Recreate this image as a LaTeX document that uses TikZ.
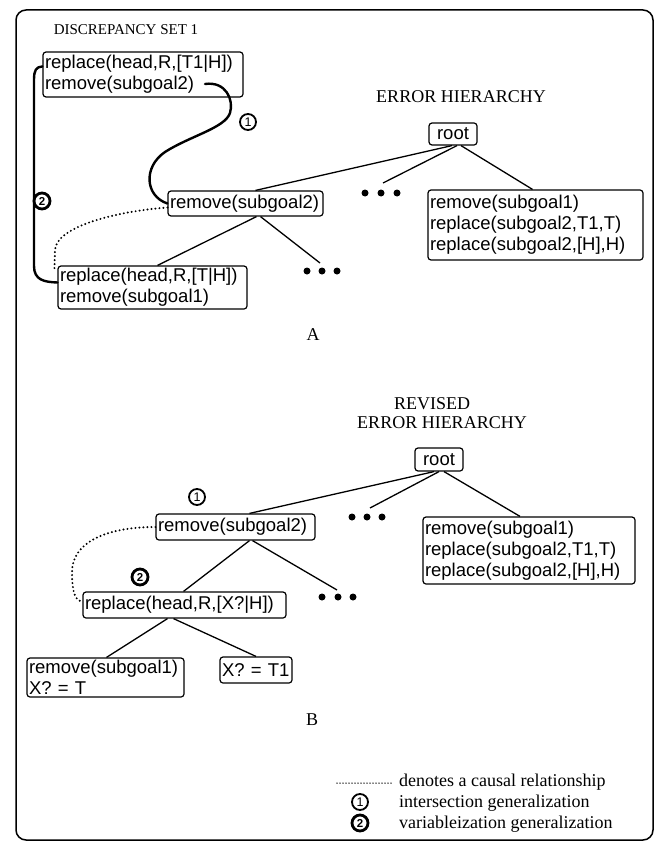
\documentclass[tikz,border=0pt]{standalone}
\usepackage{fontspec}
\setmainfont{Liberation Serif}
\newfontfamily\nodefont{Liberation Sans}
\usetikzlibrary{calc}
\tikzset{
  box/.style={draw, rounded corners=3pt, line width=1.2pt, inner xsep=2pt, inner ysep=1pt,
    align=left, font=\nodefont\fontsize{18.5}{21}\selectfont},
  edge/.style={line width=1.3pt},
  heavy/.style={line width=2.4pt, line cap=round},
  causal/.style={line width=2.2pt, line cap=round, dash pattern=on 0pt off 4pt},
  head/.style={font=\fontsize{18}{20}\selectfont},
  numone/.style={circle, draw, line width=1.8pt, inner sep=0pt, minimum size=16pt,
    font=\nodefont\fontsize{12.5}{12.5}\selectfont},
  numtwo/.style={circle, draw, line width=2.8pt, inner sep=0pt, minimum size=16pt,
    font=\nodefont\bfseries\fontsize{11.5}{11.5}\selectfont},
  dot/.style={fill, circle, inner sep=0pt, minimum size=7pt}
}
\begin{document}
\begin{tikzpicture}[x=1pt,y=-1pt]
\useasboundingbox (0,0) rectangle (656,848);
% frame
\draw[line width=1.5pt, rounded corners=10pt] (16,10) rectangle (653,840);

% ---------- Part A ----------
\node[head, font=\fontsize{15}{17}\selectfont] (hd1) at (126,30) {DISCREPANCY SET 1};
\node[head] (eh1) at (461,97) {ERROR HIERARCHY};

\node[box, minimum height=45pt, text width=196pt] (t1) at (143,74.5)
  {replace(head,R,[T1|H])\\remove(subgoal2)};
\node[box, minimum height=25pt, text width=151pt] (m1) at (245.5,203.5) {remove(subgoal2)};
\node[box, minimum height=43pt, text width=185pt] (b1) at (152.5,287.5)
  {replace(head,R,[T|H])\\remove(subgoal1)};
\node[box, minimum height=22pt, text width=44pt, align=center] (rA) at (453,134) {root};
\node[box, minimum height=70pt, text width=211pt] (xA) at (535.5,225)
  {remove(subgoal1)\\replace(subgoal2,T1,T)\\replace(subgoal2,[H],H)};

% dots A
\node[dot] (da1) at (365,193) {}; \node[dot] (da2) at (381,193) {}; \node[dot] (da3) at (397,193) {};
\node[dot] (db1) at (307,271) {}; \node[dot] (db2) at (322,271) {}; \node[dot] (db3) at (337,271) {};
\coordinate (ea1) at (383,183);
\coordinate (ea2) at (320,263);

\draw[edge] ($(rA.south)+(-1,0)$) -- ($(m1.north)+(10,0)$);
\draw[edge] ($(rA.south)+(4,0)$) -- (ea1);
\draw[edge] ($(rA.south)+(8,0)$) -- ($(xA.north)+(-3,0)$);
\draw[edge] ($(m1.south)+(11,0)$) -- ($(b1.north)+(5,0)$);
\draw[edge] ($(m1.south)+(15,0)$) -- (ea2);

% generalization curves
\coordinate (s1) at (205,84);
\draw[heavy] (s1) .. controls (226,81) and (234,100) .. (230,113)
  .. controls (225,128) and (190,136) .. (165,152)
  .. controls (143,167) and (145,196) .. (m1.west);
\node[numone] (n1a) at (248,122) {1};

\draw[heavy] ($(t1.north west)+(0,15)$) .. controls (36,67) and (34,70) .. (34,80)
  -- (34,266) .. controls (34,280) and (44,282) .. ($(b1.west)+(0,-5)$);
\node[numtwo] (n2a) at (42,201) {2};

\draw[causal] ($(m1.west)+(0,4)$) .. controls (110,212) and (56,228) .. (55,250)
  -- ($(b1.north west)+(-3,4)$);

\node[head] (la) at (313,335) {A};

% ---------- Part B ----------
\node[head] (rv) at (432,404) {REVISED};
\node[head] (eh2) at (442,423) {ERROR HIERARCHY};

\node[box, minimum height=23pt, text width=44pt, align=center] (rB) at (439,459.5) {root};
\node[box, minimum height=67pt, text width=208pt] (xB) at (529,550.5)
  {remove(subgoal1)\\replace(subgoal2,T1,T)\\replace(subgoal2,[H],H)};
\node[box, minimum height=26pt, text width=155pt] (m2) at (235.5,527) {remove(subgoal2)};
\node[box, minimum height=26pt, text width=199pt] (b2) at (184.5,605) {replace(head,R,[X?|H])};
\node[box, minimum height=39pt, text width=153pt] (c1) at (105.5,677.5) {remove(subgoal1)\\X? = T};
\node[box, minimum height=26pt, text width=68pt] (c2) at (256,670) {X? = T1};

\node[dot] (dc1) at (352,517) {}; \node[dot] (dc2) at (367,517) {}; \node[dot] (dc3) at (382,517) {};
\node[dot] (dd1) at (322,597) {}; \node[dot] (dd2) at (338,597) {}; \node[dot] (dd3) at (353,597) {};
\coordinate (eb1) at (370,508);
\coordinate (eb2) at (337,590);

\draw[edge] ($(rB.south)+(-5,0)$) -- ($(m2.north)+(14,0)$);
\draw[edge] ($(rB.south)+(0,0)$) -- (eb1);
\draw[edge] ($(rB.south)+(5,0)$) -- ($(xB.north)+(-9,0)$);
\draw[edge] ($(m2.south)+(14,0)$) -- ($(b2.north)+(-1,0)$);
\draw[edge] ($(m2.south)+(17,0)$) -- (eb2);
\draw[edge] ($(b2.south)+(-17,0)$) -- ($(c1.north)+(1,0)$);
\draw[edge] ($(b2.south)+(-11,0)$) -- (c2.north);

\draw[causal] (m2.west) .. controls (105,527) and (72,543) .. (72,572)
  .. controls (72,594) and (76,601) .. ($(b2.west)+(0,-3)$);

\node[numone] (n1b) at (197,497) {1};
\node[numtwo] (n2b) at (140,577) {2};

\node[head] (lb) at (312,720) {B};

% ---------- Legend ----------
\coordinate (lg1) at (337,783);
\coordinate (lg2) at (393,783);
\draw[line width=1.5pt, line cap=round, dash pattern=on 0pt off 3pt] (lg1) -- (lg2);
\node[head, anchor=base west, inner sep=0pt] (t1l) at (399,786) {denotes a causal relationship};
\node[numone] (n1l) at (360,802) {1};
\node[head, anchor=base west, inner sep=0pt] (t2l) at (399,807) {intersection generalization};
\node[numtwo] (n2l) at (360,823) {2};
\node[head, anchor=base west, inner sep=0pt] (t3l) at (399,828) {variableization generalization};
\end{tikzpicture}
\end{document}
